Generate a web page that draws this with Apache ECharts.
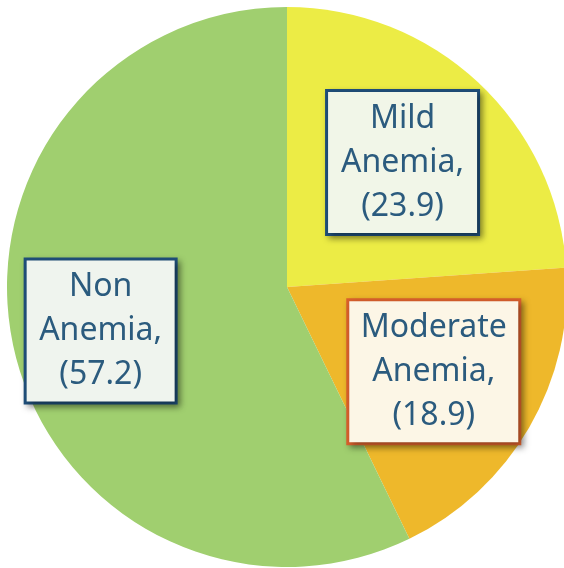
<!DOCTYPE html>
<html>
<head>
<meta charset="utf-8">
<script src="https://cdn.jsdelivr.net/npm/echarts@6/dist/echarts.min.js"></script>
<style>
  html, body { margin: 0; padding: 0; background: #fff; }
  #main { width: 564px; height: 568px; }
</style>
</head>
<body>
<div id="main"></div>
<script>
var categories = ["Mild Anemia", "Moderate Anemia", "Non Anemia"];
var values = [23.9, 18.9, 57.2];

var sliceColors = ["#ecec45", "#eeb82b", "#a0cf6f"];
var boxFill = ["#f1f6e8", "#fcf6e6", "#eff4ee"];
var boxBorder = ["#1f4e79", "#d9602c", "#1f4e79"];
var boxWidth = [149, 169, 148];
var labelOffsets = [[18, -20], [23, 13], [-47, 12]];

var chart = echarts.init(document.getElementById("main"));

var pieData = [];
for (var i = 0; i < categories.length; i++) {
	pieData.push({
		name: categories[i],
		value: values[i],
		itemStyle: { color: sliceColors[i] },
		label: {
			backgroundColor: boxFill[i],
			borderColor: boxBorder[i],
			width: boxWidth[i],
			offset: labelOffsets[i]
		}
	});
}

chart.setOption({
	animation: false,
	series: [{
		type: "pie",
		center: [287, 287],
		radius: 280,
		startAngle: 90,
		clockwise: true,
		silent: true,
		data: pieData,
		label: {
			show: true,
			position: "inside",
			formatter: function (p) {
				return p.name.replace(" ", "\n") + ",\n(" + p.value + ")";
			},
			color: "#2b5b7e",
			fontFamily: "Noto Sans",
			fontSize: 32,
			lineHeight: 44,
			align: "center",
			borderWidth: 3,
			padding: [5, 0, 4, 0],
			shadowColor: "rgba(0,0,0,0.35)",
			shadowBlur: 6,
			shadowOffsetX: 3,
			shadowOffsetY: 3
		},
		labelLine: { show: false }
	}]
});
</script>
</body>
</html>
